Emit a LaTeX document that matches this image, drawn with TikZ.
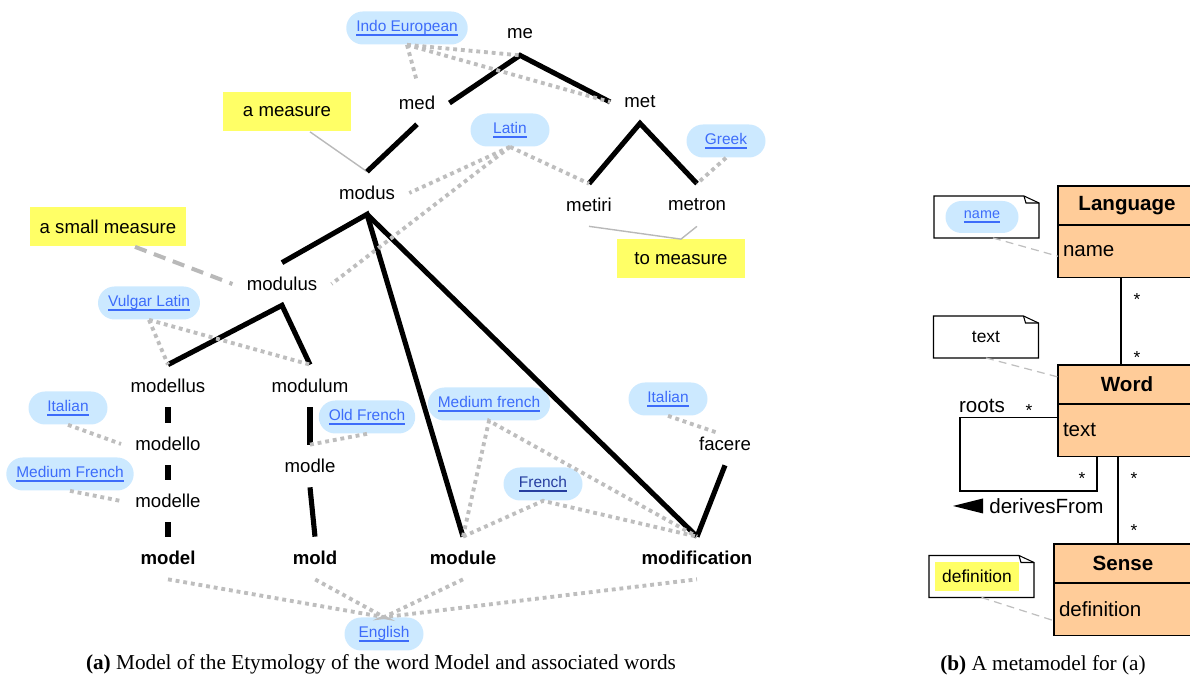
\documentclass[tikz,border=0pt]{standalone}
\usepackage{fontspec}
\setmainfont{Liberation Serif}
\setsansfont{Liberation Sans}
\usepackage{tikz}
\usetikzlibrary{positioning, calc}

\definecolor{linkblue}{RGB}{61, 108, 250}
\definecolor{visitblue}{RGB}{38, 62, 160}
\definecolor{pillblue}{RGB}{204, 233, 255}
\definecolor{markyellow}{RGB}{255, 255, 102}
\definecolor{umlpeach}{RGB}{255, 204, 153}
\definecolor{linkgray}{RGB}{190, 190, 190}

\newcommand{\treefont}{\sffamily\fontsize{10.6pt}{12pt}\selectfont}
\newcommand{\pillfont}{\sffamily\fontsize{8.8pt}{10pt}\selectfont}
\newcommand{\umlfont}{\sffamily\fontsize{11.7pt}{14pt}\selectfont}
\newcommand{\notefont}{\sffamily\fontsize{9.9pt}{12pt}\selectfont}
\newsavebox{\lnkbox}
\newcommand{\lnk}[1]{\sbox\lnkbox{#1}\rlap{\rule[-2.4pt]{\wd\lnkbox}{1pt}}\usebox\lnkbox}
% folded UML note drawn round an (empty) node
\newcommand{\notebox}[1]{%
  \draw[umlline] (#1.south west) -- (#1.north west) -- ([xshift=-0.3cm]#1.north east)
    -- ([yshift=-0.14cm]#1.north east) -- (#1.south east) -- cycle;
  \draw[umlline] ([xshift=-0.3cm]#1.north east) -- ([xshift=-0.26cm, yshift=-0.14cm]#1.north east)
    -- ([yshift=-0.14cm]#1.north east);
}

\begin{document}
\begin{tikzpicture}[
  word/.style={font=\treefont, minimum height=0.84cm, inner xsep=0.28cm, inner ysep=0},
  eng/.style={word, font=\treefont\bfseries},
  lang/.style={fill=pillblue, rounded corners=0.33cm, minimum width=1.58cm, minimum height=0.66cm,
    inner xsep=0.2cm, inner ysep=0, text=linkblue, font=\pillfont},
  gloss/.style={fill=markyellow, minimum width=2.56cm, minimum height=0.78cm, inner xsep=0.2cm, font=\treefont},
  stem/.style={line width=2.9pt},
  langlink/.style={draw=linkgray, line width=2.2pt, dash pattern=on 2.2pt off 2.2pt},
  glossline/.style={draw=gray!55, line width=0.8pt},
  umlline/.style={line width=0.6pt},
  umlhead/.style={draw, umlline, fill=umlpeach, minimum width=2.76cm, minimum height=0.78cm,
    inner sep=0, outer sep=0, font=\umlfont\bfseries},
  umlattr/.style={draw, umlline, fill=umlpeach, text width=2.56cm, align=left, minimum height=1.05cm,
    inner xsep=0.1cm, inner ysep=0, outer sep=0, font=\umlfont},
  umltext/.style={font=\umlfont, inner sep=0},
  mult/.style={font=\notefont, inner sep=0},
  note/.style={minimum width=2.1cm, minimum height=0.84cm, inner sep=0, outer sep=0},
  notelink/.style={draw=gray!50, line width=0.7pt, dash pattern=on 4.5pt off 3pt},
  caption/.style={font=\rmfamily\fontsize{12.1pt}{14pt}\selectfont, inner sep=0}
]
  \useasboundingbox (0, 0) rectangle (23.8, 13.6);
  \clip (0, 0) rectangle (23.8, 13.6);

  % Etymology tree words
  \node[word] (me) at (10.4, 12.92) {me};
  \node[word] (med) at (8.34, 11.54) {med};
  \node[word] (met) at (12.8, 11.56) {met};
  \node[word] (modus) at (7.34, 9.74) {modus};
  \node[word] (metiri) at (11.78, 9.5) {metiri};
  \node[word] (metron) at (13.94, 9.5) {metron};
  \node[word] (modulus) at (5.64, 7.92) {modulus};
  \node[word] (modellus) at (3.36, 5.88) {modellus};
  \node[word] (modulum) at (6.2, 5.88) {modulum};
  \node[word] (modello) at (3.36, 4.72) {modello};
  \node[word] (modle) at (6.2, 4.28) {modle};
  \node[word] (modelle) at (3.36, 3.58) {modelle};
  \node[word] (facere) at (14.5, 4.72) {facere};

  % English words
  \node[eng] (model) at (3.36, 2.44) {model};
  \node[eng] (mold) at (6.3, 2.44) {mold};
  \node[eng] (module) at (9.26, 2.44) {module};
  \node[eng] (modification) at (13.94, 2.44) {modification};

  % Languages
  \node[lang] (indoeu) at (8.14, 13.04) {\lnk{Indo European}};
  \node[lang] (latin) at (10.2, 11.0) {\lnk{Latin}};
  \node[lang] (greek) at (14.52, 10.78) {\lnk{Greek}};
  \node[lang] (vulgar) at (2.98, 7.54) {\lnk{Vulgar Latin}};
  \node[lang] (italianA) at (1.36, 5.44) {\lnk{Italian}};
  \node[lang] (oldfr) at (7.34, 5.26) {\lnk{Old French}};
  \node[lang] (medfrA) at (1.4, 4.12) {\lnk{Medium French}};
  \node[lang] (medfrB) at (9.78, 5.52) {\lnk{Medium french}};
  \node[lang, text=visitblue] (french) at (10.86, 3.92) {\lnk{French}};
  \node[lang] (italianB) at (13.36, 5.62) {\lnk{Italian}};
  \node[lang] (english) at (7.68, 0.92) {\lnk{English}};

  % Senses
  \node[gloss] (ameasure) at (5.74, 11.36) {a measure};
  \node[gloss] (asmall) at (2.16, 9.06) {a small measure};
  \node[gloss] (tomeasure) at (13.62, 8.42) {to measure};

  \draw[glossline] ([xshift=0.46cm]ameasure.south) -- (modus.north);
  \draw[glossline, line width=2.3pt, dash pattern=on 7pt off 4.5pt] ([xshift=0.54cm]asmall.south) -- (modulus.west);
  \draw[glossline] (metiri.south) -- (tomeasure.north) -- (metron.south);

  % Derivations
  \draw[stem] (med.east) -- (me.south) -- (met.west);
  \draw[stem] (metiri.north) -- (met.south) -- (metron.north);
  \draw[stem] (med.south) -- (modus.north);
  \draw[stem] (modulus.north) -- (modus.south) -- (module.north);
  \draw[stem] (modus.south) -- (modification.north);
  \draw[stem] (modellus.north) -- (modulus.south) -- (modulum.north);
  \draw[stem] (modellus.south) -- (modello.north);
  \draw[stem] (modello.south) -- (modelle.north);
  \draw[stem] (modelle.south) -- (model.north);
  \draw[stem] (modulum.south) -- (modle.north);
  \draw[stem] (modle.south) -- (mold.north);
  \draw[stem] (facere.south) -- (modification.north);

  % Language links
  \draw[langlink] (indoeu.south) -- (me.south);
  \draw[langlink] (indoeu.south) -- (med.north);
  \draw[langlink] (indoeu.south) -- (met.west);
  \draw[langlink] (latin.south) -- (modus.east);
  \draw[langlink] (latin.south) -- (modulus.east);
  \draw[langlink] (latin.south) -- (metiri.north);
  \draw[langlink] (greek.south) -- (metron.north);
  \draw[langlink] (vulgar.south) -- (modellus.north);
  \draw[langlink] (vulgar.south) -- (modulum.north);
  \draw[langlink] (italianA.south) -- (modello.west);
  \draw[langlink] (medfrA.south) -- (modelle.west);
  \draw[langlink] (oldfr.south) -- (modle.north);
  \draw[langlink] (module.north) -- (medfrB.south) -- (modification.north);
  \draw[langlink] (module.north) -- (french.south) -- (modification.north);
  \draw[langlink] (italianB.south) -- ([xshift=-0.16cm, yshift=-0.2cm]facere.north);
  \draw[langlink] (model.south) -- (english.north) -- (mold.south);
  \draw[langlink] (module.south) -- (english.north) -- (modification.south);

  % Metamodel classes
  \node[umlhead] (lang) at (22.54, 9.49) {Language};
  \node[umlattr, below=0pt of lang] (langattr) {name};
  \node[umlhead] (wordcl) at (22.54, 5.91) {Word};
  \node[umlattr, below=0pt of wordcl] (wordattr) {text};
  \node[umlhead] (sense) at (22.46, 2.33) {Sense};
  \node[umlattr, below=0pt of sense] (senseattr) {definition};

  \draw[umlline] ([xshift=-0.12cm]langattr.south) -- ([xshift=-0.12cm]wordcl.north)
    node[mult, pos=0.25, right=0.24cm] (multA) {*} node[mult, pos=0.91, right=0.24cm] (multB) {*};
  \draw[umlline] ([xshift=-0.18cm]wordattr.south) -- ([xshift=-0.18cm]wordattr.south |- sense.north)
    node[mult, pos=0.25, right=0.24cm] (multC) {*} node[mult, pos=0.85, right=0.24cm] (multD) {*};

  % roots / derivesFrom
  \coordinate (loopcorner) at (19.2, 3.78);
  \draw[umlline] ([yshift=0.26cm]wordattr.west) -| (loopcorner) -| ([xshift=-0.6cm]wordattr.south);
  \node[umltext] (roots) at (19.64, 5.48) {roots};
  \node[mult] (multE) at (20.58, 5.38) {*};
  \node[mult] (multF) at (21.64, 4.02) {*};
  \node[umltext, anchor=west] (derives) at (19.78, 3.48) {derivesFrom};
  \fill ([xshift=-0.12cm]derives.west) -- ++(0, 0.15) -- ++(-0.6, -0.15) -- ++(0.6, -0.15) -- cycle;

  % Notes
  \node[note] (namenote) at (19.73, 9.26) {};
  \node[lang, font=\sffamily\fontsize{8.2pt}{10pt}\selectfont, minimum width=1.46cm, minimum height=0.64cm,
    rounded corners=0.32cm] (namepill) at (19.64, 9.26) {\lnk{name}};
  \node[note, font=\notefont] (textnote) at (19.72, 6.86) {text};
  \node[note] (defnote) at (19.63, 2.07) {};
  \node[fill=markyellow, minimum width=1.68cm, minimum height=0.58cm, inner sep=0, font=\notefont]
    (defmark) at (19.54, 2.07) {definition};
  \notebox{namenote}
  \notebox{textnote}
  \notebox{defnote}
  \draw[notelink] ([xshift=0.13cm]namenote.south) -- ([yshift=-0.1cm]langattr.west);
  \draw[notelink] (textnote.south) -- ([yshift=0.15cm]wordcl.west);
  \draw[notelink] (defnote.south) -- ([yshift=-0.23cm]senseattr.west);

  % Captions
  \node[caption] (capa) at (7.62, 0.32) {\textbf{(a)} Model of the Etymology of the word Model and associated words};
  \node[caption] (capb) at (20.86, 0.3) {\textbf{(b)} A metamodel for (a)};
\end{tikzpicture}
\end{document}
